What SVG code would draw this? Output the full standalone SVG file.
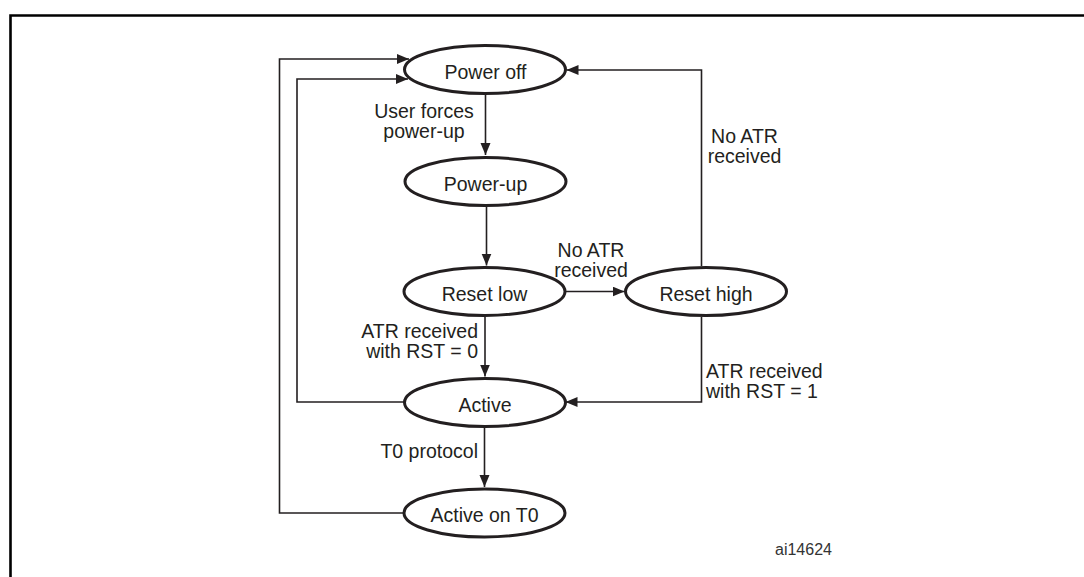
<svg xmlns="http://www.w3.org/2000/svg" width="1084" height="577" viewBox="0 0 1084 577">
<defs>
<style>
.node ellipse{fill:#fff;stroke:#231f20;stroke-width:3}
text{font-family:"Liberation Sans",Arial,sans-serif;font-size:19.5px;fill:#231f20}
.c{text-anchor:middle}
.e{text-anchor:end}
.conn path{fill:none;stroke:#231f20;stroke-width:1.6}
.frame{fill:none;stroke:#000;stroke-width:2.6}
</style>
<marker id="arr" markerUnits="userSpaceOnUse" markerWidth="14" markerHeight="12" refX="12" refY="5" orient="auto">
<path d="M0,0 L12,5 L0,10 Z" fill="#231f20"/>
</marker>
</defs>
<rect width="1084" height="577" fill="#fff"/>
<path class="frame" d="M10.5,577 V15.5 H1084"/>
<g class="conn">
<path d="M485.5,95 V155" marker-end="url(#arr)"/>
<path d="M486.5,207 V265.5" marker-end="url(#arr)"/>
<path d="M566,291.5 H624.5" marker-end="url(#arr)"/>
<path d="M485,317 V376.5" marker-end="url(#arr)"/>
<path d="M701.5,317 V402 H565.5" marker-end="url(#arr)"/>
<path d="M701.5,266 V70 H566.5" marker-end="url(#arr)"/>
<path d="M404,402 H297 V79 H408" marker-end="url(#arr)"/>
<path d="M404,513 H279.5 V59 H409" marker-end="url(#arr)"/>
<path d="M484.5,428 V487" marker-end="url(#arr)"/>
</g>
<g id="power-off" class="node"><ellipse cx="485" cy="69.5" rx="80.5" ry="24"/><text class="c" x="485.5" y="79.3">Power off</text></g>
<g id="power-up" class="node"><ellipse cx="485.5" cy="181.5" rx="80.5" ry="24"/><text class="c" x="485.5" y="191.3">Power-up</text></g>
<g id="reset-low" class="node"><ellipse cx="484.5" cy="291.5" rx="80.5" ry="24"/><text class="c" x="484.5" y="301.3">Reset low</text></g>
<g id="reset-high" class="node"><ellipse cx="706" cy="291.5" rx="80.5" ry="24"/><text class="c" x="706" y="301.3">Reset high</text></g>
<g id="active" class="node"><ellipse cx="485" cy="402.5" rx="80.5" ry="24"/><text class="c" x="485" y="412.3">Active</text></g>
<g id="active-t0" class="node"><ellipse cx="484.5" cy="513" rx="80.5" ry="24"/><text class="c" x="484.5" y="521.7">Active on T0</text></g>
<g id="labels">
<text class="c" x="424" y="117.5">User forces</text>
<text class="c" x="424" y="137.5">power-up</text>
<text class="c" x="744.5" y="143">No ATR</text>
<text class="c" x="744.5" y="163">received</text>
<text class="c" x="591" y="257.3">No ATR</text>
<text class="c" x="591" y="277.3">received</text>
<text class="e" x="478" y="338.3">ATR received</text>
<text class="e" x="478" y="358.3">with RST = 0</text>
<text x="706" y="378">ATR received</text>
<text x="706" y="398">with RST = 1</text>
<text class="e" x="478" y="458.3">T0 protocol</text>
<text x="775" y="555" style="font-size:16px;fill:#333">ai14624</text>
</g>
</svg>
